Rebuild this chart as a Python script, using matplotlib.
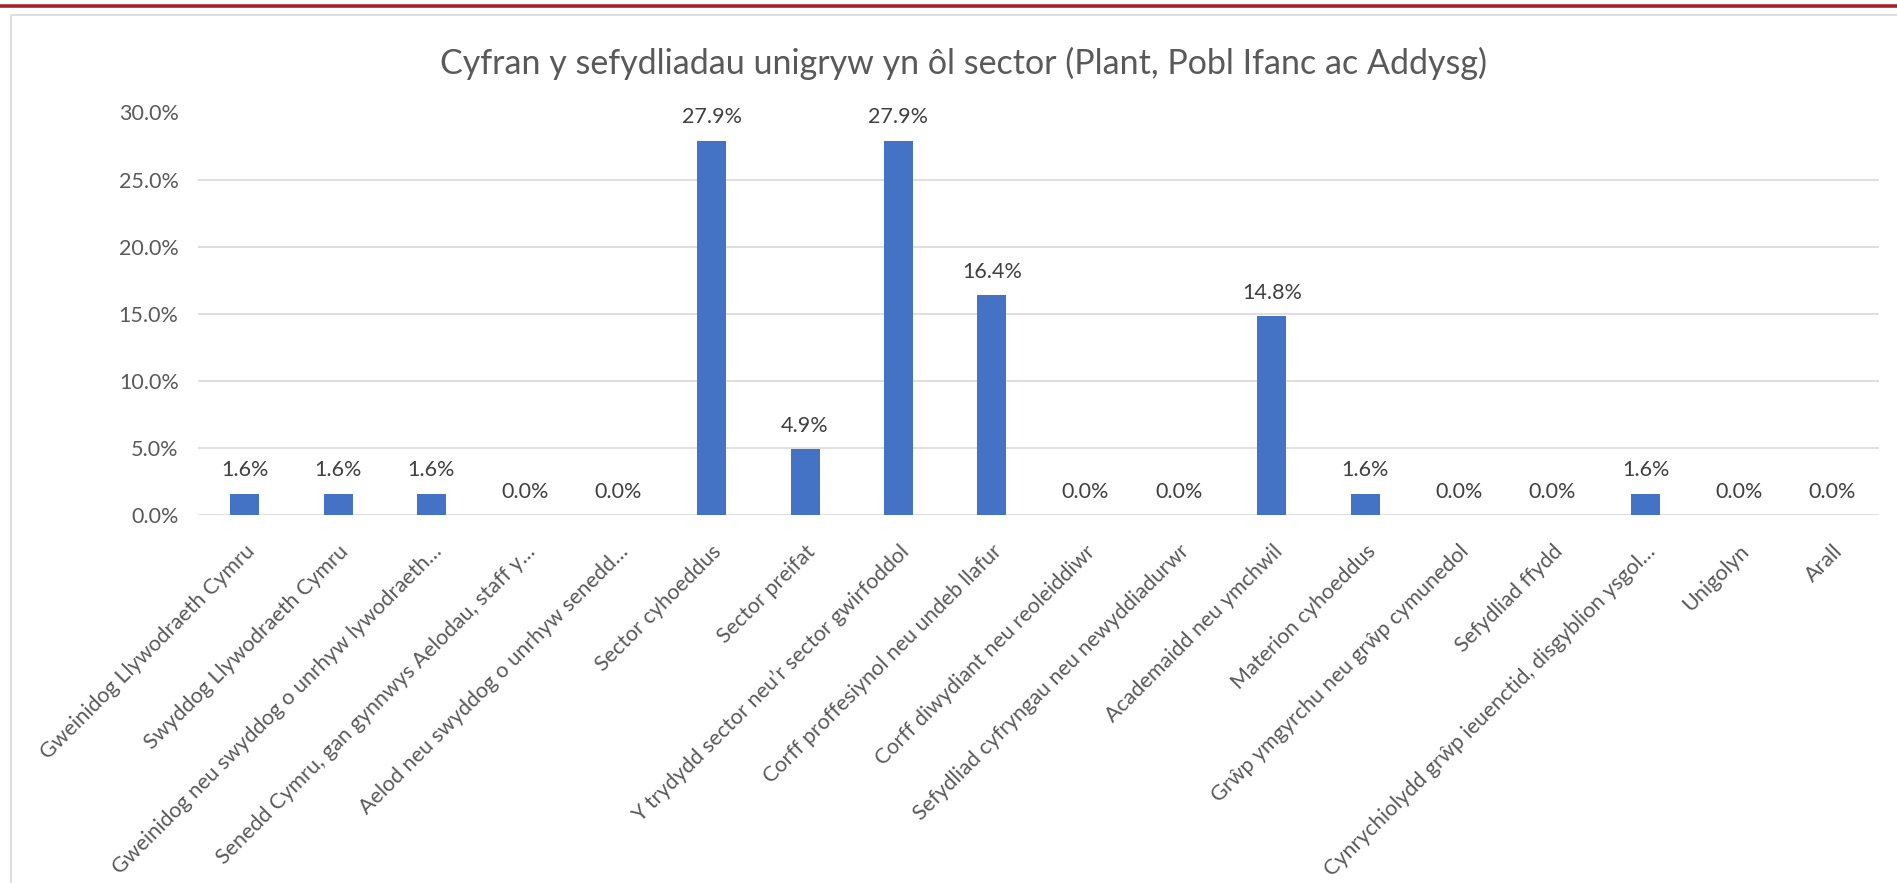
import matplotlib
matplotlib.use("Agg")
import matplotlib.pyplot as plt
from matplotlib.patches import Rectangle
from matplotlib.lines import Line2D
from matplotlib.ticker import FuncFormatter, MultipleLocator

plt.rcParams['font.family'] = ['Lato', 'DejaVu Sans']

title = "Cyfran y sefydliadau unigryw yn ôl sector (Plant, Pobl Ifanc ac Addysg)"
categories = [
    "Gweinidog Llywodraeth Cymru",
    "Swyddog Llywodraeth Cymru",
    "Gweinidog neu swyddog o unrhyw lywodraeth…",
    "Senedd Cymru, gan gynnwys Aelodau, staff y…",
    "Aelod neu swyddog o unrhyw senedd…",
    "Sector cyhoeddus",
    "Sector preifat",
    "Y trydydd sector neu\u2019r sector gwirfoddol",
    "Corff proffesiynol neu undeb llafur",
    "Corff diwydiant neu reoleiddiwr",
    "Sefydliad cyfryngau neu newyddiadurwr",
    "Academaidd neu ymchwil",
    "Materion cyhoeddus",
    "Grŵp ymgyrchu neu grŵp cymunedol",
    "Sefydliad ffydd",
    "Cynrychiolydd grŵp ieuenctid, disgyblion ysgol…",
    "Unigolyn",
    "Arall",
]
values = [0.016, 0.016, 0.016, 0.0, 0.0, 0.279, 0.049, 0.279, 0.164, 0.0, 0.0,
          0.148, 0.016, 0.0, 0.0, 0.016, 0.0, 0.0]

W, H = 1897, 883
fig = plt.figure(figsize=(W / 100, H / 100), dpi=100)
fig.patch.set_facecolor('white')

# top red rule
fig.add_artist(Line2D([0, 1], [1 - 5.5 / H, 1 - 5.5 / H], color='#A4262C', lw=2.6,
                      transform=fig.transFigure))
# chart border
fig.add_artist(Rectangle((11 / W, -0.05), 1.1, 1 - 15 / H + 0.05, transform=fig.transFigure,
                         fill=False, edgecolor='#D9D9D9', lw=1.2))

ax = fig.add_axes([198 / W, 1 - 515 / H, (1879 - 198) / W, (515 - 112.5) / H])
x = list(range(len(categories)))
ax.bar(x, values, width=0.31, color='#4472C4', zorder=3)
ax.set_xlim(-0.5, len(categories) - 0.5)
ax.set_ylim(0, 0.30)
ax.yaxis.set_major_locator(MultipleLocator(0.05))
ax.yaxis.set_major_formatter(FuncFormatter(lambda v, p: f"{v*100:.1f}%"))
ax.grid(axis='y', color='#D9D9D9', lw=1.2, zorder=0)
for s in ax.spines.values():
    s.set_visible(False)
ax.tick_params(axis='both', length=0, labelsize=15.5, labelcolor='#595959')
ax.tick_params(axis='y', pad=14)
ax.set_xticks(x)
ax.set_xticklabels(categories, rotation=45, ha='right', rotation_mode='anchor',
                   fontsize=15.5, color='#595959')
ax.tick_params(axis='x', pad=19)

for xi, v in zip(x, values):
    ax.annotate(f"{v*100:.1f}%", (xi, v), xytext=(0, 12.5), textcoords='offset points',
                ha='center', va='baseline', fontsize=15.5, color='#404040')

fig.text(0.508, 1 - 63 / H, title, ha='center', va='center', fontsize=24.5, color='#595959')

fig.savefig('out.png', dpi=100, facecolor='white')
